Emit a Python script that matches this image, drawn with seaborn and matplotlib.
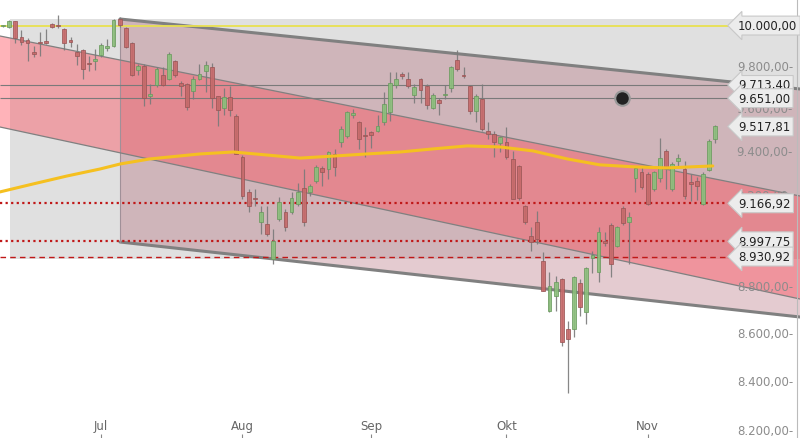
import numpy as np
import pandas as pd
import matplotlib
matplotlib.use("Agg")
import matplotlib.pyplot as plt
import seaborn as sns

opens = [10000,9995,10020,9945,9930,9870,9920,9925,10010,10005,9985,9930,9870,9880,9820,9830,9855,9890,9900,10030,
         9990,9915,9785,9805,9660,9715,9760,9740,9830,9725,9720,9685,9740,9780,9800,9660,9605,9655,9567,9377,
         9218,9190,9083,9075,8920,9097,9128,9128,9164,9236,9218,9268,9327,9322,9390,9446,9474,9572,9540,9478,
         9493,9497,9540,9586,9712,9765,9740,9668,9740,9710,9605,9640,9665,9700,9835,9760,9710,9590,9647,9497,
         9483,9442,9446,9368,9336,9154,9021,9083,8912,8696,8760,8833,8620,8620,8816,8692,8925,8864,9000,9070,
         8977,9146,9083,9281,9309,9300,9231,9281,9405,9231,9359,9322,9263,9268,9164,9318,9460]
highs = [10005,10025,10020,9980,9940,9900,9970,9985,10015,10050,9990,9945,9910,9885,9850,9885,9915,9935,10030,10040,
         9995,9920,9815,9815,9720,9800,9800,9870,9835,9730,9725,9755,9815,9830,9820,9660,9700,9710,9575,9385,
         9232,9232,9154,9154,9052,9195,9141,9218,9258,9322,9254,9340,9336,9405,9414,9520,9590,9600,9545,9515,
         9497,9572,9680,9775,9775,9775,9775,9720,9745,9720,9675,9650,9715,9805,9880,9800,9715,9670,9718,9540,
         9497,9474,9515,9405,9340,9160,9061,9132,8950,8864,8846,8837,8653,8846,8833,8886,8955,9061,9039,9079,
         9065,9154,9128,9332,9332,9309,9313,9464,9414,9354,9390,9359,9300,9286,9309,9460,9525]
lows = [9995,9990,9917,9905,9830,9845,9850,9910,9990,9990,9880,9895,9810,9740,9780,9785,9845,9875,9895,9995,
        9890,9755,9760,9615,9625,9705,9710,9735,9750,9660,9595,9645,9735,9680,9605,9520,9572,9567,9390,9185,
        9130,9154,9030,9022,8898,9088,9043,9119,9154,9065,9200,9258,9245,9277,9290,9425,9465,9558,9414,9377,
        9420,9493,9527,9545,9700,9740,9700,9630,9630,9600,9598,9570,9645,9680,9780,9745,9578,9540,9497,9460,
        9377,9400,9368,9186,9180,9075,8955,8986,8780,8692,8696,8548,8355,8586,8675,8640,8860,8820,8977,8842,
        8973,9070,8898,9218,9231,9160,9222,9263,9231,9222,9332,9186,9177,9181,9160,9313,9440]
closes = [10000,10020,9940,9920,9915,9860,9915,9915,9995,10000,9915,9920,9850,9790,9815,9840,9905,9900,10025,10005,
          9895,9760,9805,9651,9670,9790,9715,9860,9760,9710,9610,9740,9765,9810,9651,9595,9655,9595,9392,9200,
          9154,9186,9128,9030,9000,9173,9061,9190,9218,9083,9245,9332,9309,9400,9332,9506,9586,9581,9460,9474,
          9478,9520,9624,9722,9742,9755,9710,9705,9690,9620,9665,9630,9670,9800,9790,9755,9590,9660,9506,9483,
          9446,9470,9377,9186,9190,9083,8995,9008,8782,8803,8820,8565,8578,8842,8713,8881,8938,9039,8990,8898,
          9061,9079,9106,9327,9240,9164,9309,9372,9332,9345,9372,9200,9254,9245,9300,9451,9518]

ma_pos = [-0.5,4.9,10.4,15.8,19.1,23.9,32.1,37.5,43,48.4,53.7,59.3,64.7,70,75.6,81,86.3,91.9,97.2,102.6,108.1,115.6]
ma_val = [9218,9254,9290,9322,9345,9368,9391,9400,9386,9372,9381,9391,9400,9414,9428,9423,9405,9368,9341,9332,9327,9336]

levels = [10000.00, 9713.40, 9651.00, 9517.81, 9166.92, 8997.75, 8930.92]
level_labels = ["10.000,00", "9.713,40", "9.651,00", "9.517,81", "9.166,92", "8.997,75", "8.930,92"]
axis_ticks = [9800, 9600, 9400, 9200, 8800, 8600, 8400, 8200]
axis_labels = ["9.800,00", "9.600,00", "9.400,00", "9.200,00", "8.800,00", "8.600,00", "8.400,00", "8.200,00"]
months = ["Jul", "Aug", "Sep", "Okt", "Nov"]

dates = pd.bdate_range("2014-06-09", periods=len(closes))
df = pd.DataFrame({"date": dates, "open": opens, "high": highs, "low": lows, "close": closes})
df["idx"] = np.arange(len(df))

sns.set_theme(style="white")
fig = plt.figure(figsize=(8, 4.39), dpi=100)
ax = fig.add_axes([0, 0, 1, 1])
ax.set_yscale("log")

def px2x(p):
    return (p - 3) / 6.14

def py2v(p):
    return 8200 * np.exp((432 - p) / 2043)

x0, x1 = px2x(0), px2x(800)
ax.set_xlim(x0, x1)
ax.set_ylim(py2v(439), py2v(0))

ax.fill_between([px2x(10), x1], py2v(260), py2v(20), color="#e0e0e0", zorder=0, lw=0)
cx = np.array([px2x(120), x1])
cu = py2v(np.array([20, 90]))
cl = py2v(np.array([243, 318]))
ax.fill_between(cx, cl, cu, color="#a85464", alpha=0.3, zorder=1, lw=0)
ax.plot(cx, cu, color="#808080", lw=2.2, zorder=2)
ax.plot(cx, cl, color="#808080", lw=2.2, zorder=2)
ax.plot([cx[0], cx[0]], [cl[0], cu[0]], color="#a09098", lw=0.8, zorder=2)
rx = np.array([x0, x1])
ru = py2v(np.array([37, 197]))
rl = py2v(np.array([128, 300]))
ax.fill_between(rx, rl, ru, color="#ff4a58", alpha=0.42, zorder=1.5, lw=0)
ax.plot(rx, ru, color="#808080", lw=0.9, zorder=2)
ax.plot(rx, rl, color="#808080", lw=0.9, zorder=2)

xe = px2x(730)
ax.hlines(levels[0], x0, xe, color="#e8e050", lw=1.3, zorder=3)
ax.hlines(levels[1:3], x0, xe, color="#7a7a7a", lw=0.8, zorder=3)
ax.hlines(levels[4:6], x0, xe, color="#c01818", lw=1.6, linestyles=(0, (1, 1.5)), zorder=3)
ax.hlines(levels[6], x0, xe, color="#c01818", lw=1.0, linestyles=(0, (4, 3)), zorder=3)

up = df["close"] >= df["open"]
ax.vlines(df["idx"], df["low"], df["high"], color="#7a7a7a", lw=0.9, zorder=4, alpha=0.9)
body = (df["close"] - df["open"]).abs().clip(lower=3)
bottom = df[["open", "close"]].min(axis=1)
ax.bar(df["idx"][up], body[up], bottom=bottom[up], width=0.62, color="#8cc07c", edgecolor="#6a9a5e", lw=0.6, zorder=5, alpha=0.9)
ax.bar(df["idx"][~up], body[~up], bottom=bottom[~up], width=0.62, color="#c86a6a", edgecolor="#9a5656", lw=0.6, zorder=5, alpha=0.9)

sns.lineplot(x=ma_pos, y=ma_val, ax=ax, color="#f5c020", lw=2.2, zorder=6, sort=False)

ax.scatter([px2x(622)], [levels[2]], s=110, color="#222222", edgecolor="#999999", lw=1.5, zorder=7)

for t, lab in zip(axis_ticks, axis_labels):
    ax.text(px2x(793), t, lab + "-", ha="right", va="center", color="#8c8c8c", fontsize=8.5, zorder=8)
for v, lab in zip(levels, level_labels):
    ax.text(px2x(738), v, lab, ha="left", va="center", color="#222222", fontsize=8.5, zorder=9,
            bbox=dict(boxstyle="larrow,pad=0.25", fc="#ececec", ec="#c8c8c8", lw=0.8))
ax.axvline(px2x(797), color="#bbbbbb", lw=0.8)

for m in months:
    mi = {"Jul": 7, "Aug": 8, "Sep": 9, "Okt": 10, "Nov": 11}[m]
    pos = df.index[df["date"].dt.month == mi][0]
    ax.text(pos, py2v(427), m, ha="center", va="center", color="#666666", fontsize=8.5)
    ax.vlines(pos, py2v(439), py2v(435), color="#888888", lw=0.8)

ax.set_xticks([])
ax.set_yticks([], minor=True)
ax.set_yticks([])
for s in ax.spines.values():
    s.set_visible(False)
ax.set_xlabel("")
ax.set_ylabel("")
fig.savefig("out.png", dpi=100)
